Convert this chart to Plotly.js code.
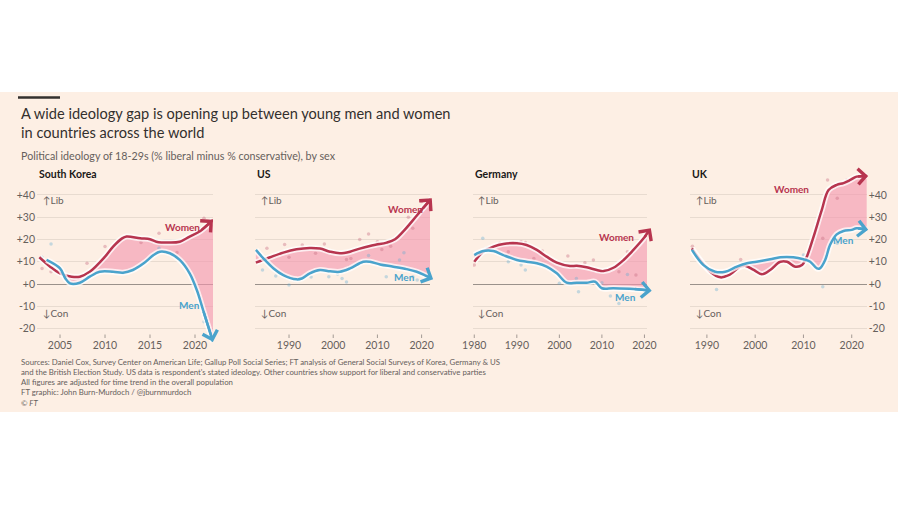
<!DOCTYPE html>
<html>
<head>
<meta charset="utf-8">
<script src="https://cdn.plot.ly/plotly-3.0.1.min.js"></script>
<style>html,body{margin:0;padding:0;background:#fff;}#chart{width:900px;height:505px;}</style>
</head>
<body>
<div id="chart"></div>
<script>
// ---------- DATA ----------
const panelNames = ["South Korea", "US", "Germany", "UK"];
const yTickVals = [-20, -10, 0, 10, 20, 30, 40];
const yTickText = ["-20", "-10", "+0", "+10", "+20", "+30", "+40"];

// South Korea
const skWomenYears = [2002.7, 2003.9, 2005, 2006.3, 2007.2, 2008.3, 2010, 2010.9, 2011.9, 2012.4, 2013.9, 2015, 2015.7, 2017.2, 2018.3, 2019.4, 2020.6, 2022];
const skWomen      = [12, 7.8, 4.8, 3.3, 3.3, 5.5, 12.3, 16.8, 20.5, 21.3, 20.5, 20.1, 19, 18.6, 19, 21.3, 23.8, 28.8];
const skMenYears   = [2003.5, 2005, 2005.6, 2006.1, 2007.2, 2008.3, 2009.4, 2010.9, 2012, 2013.1, 2014.3, 2015.4, 2016.1, 2017.2, 2018.3, 2019.4, 2020.2, 2020.9, 2022];
const skMen        = [10.8, 7, 2.5, 0.3, 0.6, 3.3, 5.5, 5.5, 5.1, 6.3, 9.3, 13, 14.5, 13.8, 10.8, 4.8, -2.7, -11.7, -25.9];
const skWomenDotYears = [2003, 2004, 2008, 2010, 2014, 2016, 2018, 2021];
const skWomenDots     = [7, 5.5, 9.3, 16.8, 18.6, 22.8, 14.1, 29.5];
const skMenDotYears   = [2003, 2004, 2006, 2012, 2014, 2016, 2021];
const skMenDots       = [12, 18, 1, 5, 8.5, 16, -16.9];
const skTicks = [2005, 2010, 2015, 2020];

// US
const usWomenYears = [1982.5, 1985.7, 1988.7, 1991.7, 1994.7, 1997, 1999.3, 2001.5, 2003.8, 2006, 2008.3, 2009.8, 2012.1, 2014, 2015.8, 2018.1, 2020, 2022.3];
const usWomen      = [9.6, 12, 14.1, 15.6, 16.2, 15.9, 14.5, 13.8, 14.5, 15.9, 17.1, 17.7, 18.6, 20.1, 23.5, 28.8, 33.3, 38.5];
const usMenYears   = [1982.5, 1984.2, 1986.5, 1988.7, 1991.7, 1992.9, 1994.7, 1997, 1999.3, 2001.5, 2003.8, 2006.8, 2008.3, 2010.6, 2013.6, 2016.6, 2018.9, 2021.1, 2022.6];
const usMen        = [15.3, 11.5, 7, 4, 2.1, 2.5, 4.8, 6.3, 5.7, 5.5, 7, 10, 10, 8.8, 7.8, 6.7, 5.5, 3.6, 2.2];
const usWomenDotYears = [1985, 1989, 1990, 1993, 1996, 1998, 2003, 2004, 2006, 2008, 2010, 2011, 2013, 2017, 2018, 2020, 2022];
const usWomenDots     = [16, 17.7, 12, 17.5, 13.8, 18, 11, 11.5, 20, 22.5, 19, 15.5, 17, 30, 25, 37, 33.6];
const usMenDotYears   = [1984, 1987, 1990, 1995, 1999, 2001, 2002, 2003, 2008, 2012, 2015, 2016, 2018, 2019, 2021];
const usMenDots       = [6.3, 3.6, -0.4, 3.1, 3.3, 4.5, 2.5, 0.9, 12.8, 3.3, 10.8, 14, 3.3, 1.8, 2];
const usTicks = [1990, 2000, 2010, 2020];

// Germany
const deWomenYears = [1980, 1982.1, 1984.5, 1986.8, 1990, 1992.3, 1994.7, 1997, 1999.4, 2002.5, 2004.1, 2006.4, 2008.8, 2010.4, 2012.7, 2015.1, 2017.4, 2019.8, 2021.5];
const deWomen      = [10, 14.5, 16.8, 18, 18.3, 17.5, 15.3, 12.3, 9.6, 8.1, 8.2, 7.5, 6.3, 5.8, 7.3, 10.8, 15.3, 20.5, 25];
const deMenYears   = [1980, 1982.1, 1984.5, 1986.8, 1990, 1992.3, 1994.7, 1997, 1999.4, 2001.7, 2004.1, 2006.4, 2008.4, 2010, 2012.7, 2017.4, 2021.7];
const deMen        = [13, 14.8, 14.8, 13, 10.8, 10, 9.3, 7.8, 4.8, 0.6, 0.6, 0.6, 1, -1.9, -1.9, -2.2, -3];
const deWomenDotYears = [1980, 1986, 1988, 1990, 1991, 1992, 1994, 1996, 2002, 2006, 2008, 2014, 2016, 2018];
const deWomenDots     = [8.5, 18.3, 14.5, 18.6, 19, 18.6, 11.5, 14.8, 12.6, 9.6, 10.8, 5.5, 14.5, 4];
const deMenDotYears   = [1982, 1983, 1988, 1991, 1992, 2000, 2004, 2004.5, 2010, 2012, 2014, 2016, 2021];
const deMenDots       = [20.5, 16, 10, 8.5, 6.3, 0.3, 2.5, -3.5, 0.6, -5.4, -8.7, 4.3, -7.2];
const deTicks = [1980, 1990, 2000, 2010, 2020];

// UK
const ukWomenYears = [1986.9, 1988.6, 1990.7, 1992.8, 1994.5, 1996.9, 1997.9, 1999.7, 2001.4, 2003.1, 2005.2, 2006.6, 2008.3, 2009.7, 2010.7, 2012.1, 2013.8, 2015.2, 2016.9, 2018.3, 2019.7, 2021, 2023.4];
const ukWomen      = [16, 10.8, 5.5, 3, 4, 7.8, 8.2, 6.3, 4.4, 6.3, 10, 10, 7.8, 8.5, 12.3, 21.3, 33.3, 42.2, 44.5, 45.3, 46.7, 48.2, 48.5];
const ukMenYears   = [1986.9, 1989.3, 1991.7, 1993.8, 1996.2, 1998.3, 2000.3, 2003.1, 2005.2, 2007.9, 2010, 2011.4, 2012.8, 2013.4, 2014.5, 2015.5, 2016.9, 2018.3, 2020, 2021, 2023.4];
const ukMen        = [15.3, 8.5, 5.5, 5.5, 7.8, 9.3, 10, 11.1, 12, 12, 11.1, 10, 7, 7, 10.8, 17.5, 22.3, 23.8, 24.3, 25, 24.3];
const ukWomenDotYears = [1987, 1997, 2014, 2015, 2017, 2019];
const ukWomenDots     = [17, 11, 20.5, 46.7, 38.5, 46.7];
const ukMenDotYears   = [1992, 2010, 2014, 2017];
const ukMenDots       = [-2.4, 13, -1.2, 18.3];
const ukTicks = [1990, 2000, 2010, 2020];

// ---------- STYLE ----------
const BG = "#fdefe4";
const WOMEN = "#b7354f";
const MEN = "#4aa3cc";
const FILL = "rgba(243,150,175,0.62)";
const GRID = "#e8dbd0";
const ZERO = "#9a918b";
const TXT = "#33302e";
const SUB = "#66605c";
const FONT = "Lato, 'Open Sans', sans-serif";

const panels = [
  {wy: skWomenYears, w: skWomen, my: skMenYears, m: skMen, wdy: skWomenDotYears, wd: skWomenDots, mdy: skMenDotYears, md: skMenDots, ticks: skTicks,
   xr: [2002.44, 2022], dom: [37, 213], wLab: [2018.6, 25.5], mLab: [2019.4, -9.5], yside: "left"},
  {wy: usWomenYears, w: usWomen, my: usMenYears, m: usMen, wdy: usWomenDotYears, wd: usWomenDots, mdy: usMenDotYears, md: usMenDots, ticks: usTicks,
   xr: [1982.3, 2021.9], dom: [255, 430], wLab: [2016.3, 33.8], mLab: [2016.2, 3.3], yside: null},
  {wy: deWomenYears, w: deWomen, my: deMenYears, m: deMen, wdy: deWomenDotYears, wd: deWomenDots, mdy: deMenDotYears, md: deMenDots, ticks: deTicks,
   xr: [1979.7, 2020.6], dom: [473, 647], wLab: [2013.5, 21], mLab: [2015.5, -6], yside: null},
  {wy: ukWomenYears, w: ukWomen, my: ukMenYears, m: ukMen, wdy: ukWomenDotYears, wd: ukWomenDots, mdy: ukMenDotYears, md: ukMenDots, ticks: ukTicks,
   xr: [1986.5, 2023.1], dom: [690, 866.7], wLab: [2007.5, 42.5], mLab: [2018.3, 19.7], yside: "right"}
];

const W = 900, H = 505;
const yRange = [-27, 50];
const plotTop = 172.6, plotBottom = 344.2;
const yDom = [1 - plotBottom / H, 1 - plotTop / H];

const traces = [];
const layout = {
  width: W, height: H,
  margin: {l: 0, r: 0, t: 0, b: 0},
  paper_bgcolor: "#ffffff",
  plot_bgcolor: "rgba(0,0,0,0)",
  showlegend: false,
  font: {family: FONT, color: SUB, size: 10},
  shapes: [
    {type: "rect", xref: "paper", yref: "paper", x0: 0, x1: 898 / W, y0: 1 - 412 / H, y1: 1 - 92 / H,
     fillcolor: BG, line: {width: 0}, layer: "below"},
    {type: "line", xref: "paper", yref: "paper", x0: 18 / W, x1: 60 / W, y0: 1 - 97.5 / H, y1: 1 - 97.5 / H,
     line: {color: "#33302e", width: 2.5}}
  ],
  annotations: []
};

panels.forEach((p, i) => {
  const n = i + 1;
  const xa = "x" + (n === 1 ? "" : n), ya = "y" + (n === 1 ? "" : n);
  const xk = "xaxis" + (n === 1 ? "" : n), yk = "yaxis" + (n === 1 ? "" : n);

  // fill between women and men
  traces.push({x: p.wy, y: p.w, xaxis: xa, yaxis: ya, mode: "lines", line: {width: 0, shape: "spline", smoothing: 1}, hoverinfo: "skip"});
  traces.push({x: p.my, y: p.m, xaxis: xa, yaxis: ya, mode: "lines", line: {width: 0, shape: "spline", smoothing: 1},
               fill: "tonexty", fillcolor: FILL, hoverinfo: "skip"});
  // dots
  traces.push({x: p.wdy, y: p.wd, xaxis: xa, yaxis: ya, mode: "markers", marker: {size: 3.5, color: "rgba(200,110,130,0.4)"}, hoverinfo: "skip"});
  traces.push({x: p.mdy, y: p.md, xaxis: xa, yaxis: ya, mode: "markers", marker: {size: 3.5, color: "rgba(90,170,210,0.35)"}, hoverinfo: "skip"});
  // halos + lines
  traces.push({x: p.wy, y: p.w, xaxis: xa, yaxis: ya, mode: "lines", line: {width: 6, color: "rgba(255,255,255,0.75)", shape: "spline", smoothing: 1}, hoverinfo: "skip"});
  traces.push({x: p.wy, y: p.w, xaxis: xa, yaxis: ya, mode: "lines", line: {width: 2.5, color: WOMEN, shape: "spline", smoothing: 1}, name: "Women"});
  traces.push({x: p.my, y: p.m, xaxis: xa, yaxis: ya, mode: "lines", line: {width: 6, color: "rgba(255,255,255,0.75)", shape: "spline", smoothing: 1}, hoverinfo: "skip"});
  traces.push({x: p.my, y: p.m, xaxis: xa, yaxis: ya, mode: "lines", line: {width: 2.5, color: MEN, shape: "spline", smoothing: 1}, name: "Men"});

  layout[xk] = {
    domain: [p.dom[0] / W, p.dom[1] / W], range: p.xr, anchor: ya,
    tickvals: p.ticks, ticktext: p.ticks.map(String), showgrid: false, zeroline: false, showline: false,
    ticks: "", tickfont: {size: 10.5, color: SUB, family: FONT}, ticklabelstandoff: -7, fixedrange: true
  };
  layout[yk] = {
    domain: yDom, range: yRange, anchor: xa,
    tickvals: yTickVals, ticktext: yTickText, showgrid: true, gridcolor: GRID, gridwidth: 1,
    zeroline: true, zerolinecolor: ZERO, zerolinewidth: 1, showline: false, ticks: "",
    showticklabels: p.yside !== null, side: p.yside || "left",
    tickfont: {size: 10.5, color: SUB, family: FONT}, ticklabelstandoff: 1, fixedrange: true
  };

  // small tick marks above the year labels
  p.ticks.forEach(t => {
    layout.shapes.push({type: "line", xref: xa, yref: "paper", x0: t, x1: t, y0: 1 - 338 / H, y1: 1 - 334.5 / H,
      line: {color: "#a39a94", width: 1}});
  });

  // arrowheads
  const wl = p.w.length, ml = p.m.length;
  layout.annotations.push({xref: xa, yref: ya, axref: xa, ayref: ya, x: p.wy[wl - 1], y: p.w[wl - 1], ax: p.wy[wl - 2], ay: p.w[wl - 2],
    text: "", showarrow: true, arrowhead: 4, arrowsize: 1.2, arrowwidth: 2.5, arrowcolor: WOMEN, standoff: 0, startstandoff: 0});
  layout.annotations.push({xref: xa, yref: ya, axref: xa, ayref: ya, x: p.my[ml - 1], y: p.m[ml - 1], ax: p.my[ml - 2], ay: p.m[ml - 2],
    text: "", showarrow: true, arrowhead: 4, arrowsize: 1.2, arrowwidth: 2.5, arrowcolor: MEN, standoff: 0, startstandoff: 0});
  // series labels
  layout.annotations.push({xref: xa, yref: ya, x: p.wLab[0], y: p.wLab[1], text: "<b>Women</b>", showarrow: false,
    font: {size: 10, color: WOMEN, family: FONT}});
  layout.annotations.push({xref: xa, yref: ya, x: p.mLab[0], y: p.mLab[1], text: "<b>Men</b>", showarrow: false,
    font: {size: 10, color: MEN, family: FONT}});
  // Lib / Con
  layout.annotations.push({xref: xa + " domain", yref: ya, x: 0.02, y: 37.5, xanchor: "left", text: "↑Lib", showarrow: false,
    font: {size: 10, color: SUB, family: FONT}});
  layout.annotations.push({xref: xa + " domain", yref: ya, x: 0.02, y: -12.8, xanchor: "left", text: "↓Con", showarrow: false,
    font: {size: 10, color: SUB, family: FONT}});
  // panel title
  layout.annotations.push({xref: "paper", yref: "paper", x: p.dom[0] / W, y: 1 - 174 / H, xanchor: "left", yanchor: "middle",
    text: "<b>" + panelNames[i] + "</b>", showarrow: false, font: {size: 10.5, color: "#1a1817", family: FONT}});
});

// title, subtitle, sources
layout.annotations.push({xref: "paper", yref: "paper", x: 19 / W, y: 1 - 123 / H, xanchor: "left", yanchor: "middle", align: "left",
  text: "A wide ideology gap is opening up between young men and women<br>in countries across the world", showarrow: false,
  font: {size: 14.6, color: TXT, family: FONT}});
layout.annotations.push({xref: "paper", yref: "paper", x: 19 / W, y: 1 - 155 / H, xanchor: "left", yanchor: "middle", align: "left",
  text: "Political ideology of 18-29s (% liberal minus % conservative), by sex", showarrow: false,
  font: {size: 10.7, color: SUB, family: FONT}});
layout.annotations.push({xref: "paper", yref: "paper", x: 19 / W, y: 1 - 382 / H, xanchor: "left", yanchor: "middle", align: "left",
  text: "Sources: Daniel Cox, Survey Center on American Life; Gallup Poll Social Series; FT analysis of General Social Surveys of Korea, Germany &amp; US<br>" +
        "and the British Election Study. US data is respondent's stated ideology. Other countries show support for liberal and conservative parties<br>" +
        "All figures are adjusted for time trend in the overall population<br>" +
        "FT graphic: John Burn-Murdoch / @jburnmurdoch<br><i>© FT</i>", showarrow: false,
  font: {size: 7.8, color: SUB, family: FONT}});

Plotly.newPlot("chart", traces, layout, {displayModeBar: false, staticPlot: true});
</script>
</body>
</html>
